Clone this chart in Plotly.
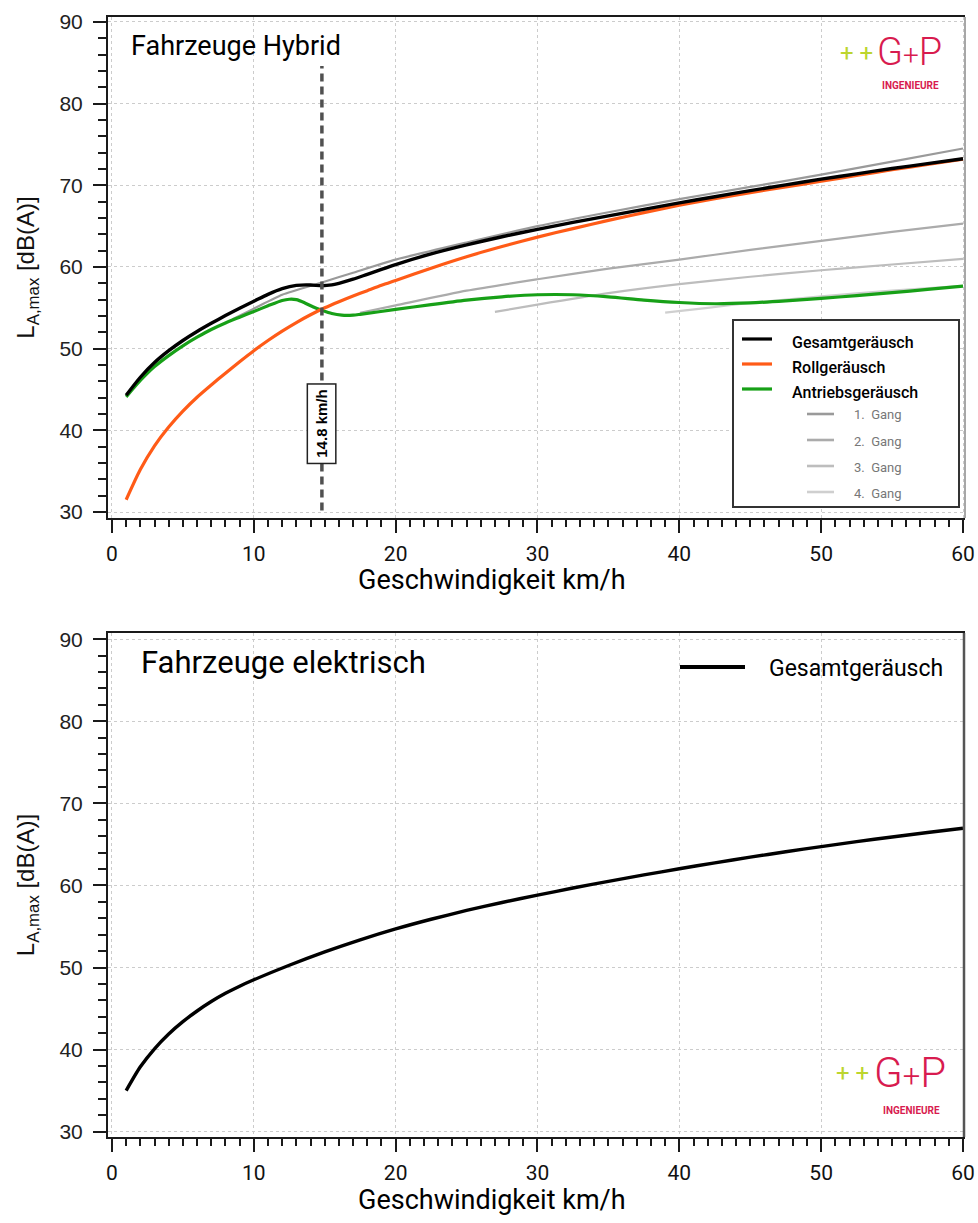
import plotly.graph_objects as go

W, H = 978, 1223

# ---------------- data ----------------
speed_marker = 14.8
marker_label = "14.8 km/h"

hyb_ges_x = [1, 2, 3, 4, 5, 6, 7, 8, 9, 10, 11, 12, 13, 14, 14.8, 15.5, 16, 17, 18, 19, 20, 22.5, 25, 27.5, 30, 32.5, 35, 37.5, 40, 42.5, 45, 47.5, 50, 52.5, 55, 57.5, 60]
hyb_ges_y = [44.3, 46.5, 48.3, 49.75, 51.0, 52.1, 53.1, 54.05, 54.95, 55.8, 56.65, 57.35, 57.75, 57.8, 57.7, 57.8, 58.0, 58.5, 59.1, 59.7, 60.3, 61.6, 62.7, 63.7, 64.6, 65.45, 66.25, 67.05, 67.85, 68.6, 69.35, 70.05, 70.75, 71.4, 72.05, 72.65, 73.25]

hyb_roll_x = [1, 2, 3, 4, 5, 6, 7, 8, 9, 10, 11, 12, 13, 14, 15, 16, 17, 18, 19, 20, 22.5, 25, 27.5, 30, 32.5, 35, 37.5, 40, 42.5, 45, 47.5, 50, 52.5, 55, 57.5, 60]
hyb_roll_y = [31.5, 35.2, 38.1, 40.4, 42.35, 44.05, 45.55, 47.0, 48.4, 49.75, 51.0, 52.15, 53.2, 54.15, 55.0, 55.75, 56.45, 57.1, 57.75, 58.35, 59.85, 61.25, 62.5, 63.65, 64.7, 65.7, 66.65, 67.55, 68.35, 69.1, 69.8, 70.5, 71.2, 71.9, 72.55, 73.2]

hyb_antr_x = [1, 2, 3, 4, 5, 6, 7, 8, 9, 10, 11, 12, 12.5, 13, 13.6, 14.2, 14.8, 15.5, 16.2, 17, 17.5, 20, 22.5, 25, 27.5, 30, 32.5, 35, 37.5, 40, 42.5, 45, 47.5, 50, 52.5, 55, 57.5, 60]
hyb_antr_y = [44.1, 46.1, 47.8, 49.15, 50.35, 51.4, 52.35, 53.15, 53.85, 54.55, 55.25, 55.9, 56.05, 56.0, 55.6, 55.1, 54.7, 54.3, 54.1, 54.1, 54.2, 54.8, 55.4, 55.95, 56.35, 56.6, 56.6, 56.35, 55.95, 55.65, 55.5, 55.6, 55.85, 56.15, 56.5, 56.85, 57.25, 57.65]

gang1_x = [8.5, 10, 12, 14.8, 17, 20, 25, 30, 35, 40, 45, 50, 55, 60]
gang1_y = [53.6, 54.9, 56.6, 58.1, 59.3, 60.9, 63.0, 65.0, 66.7, 68.3, 69.8, 71.3, 72.9, 74.5]
gang2_x = [17.5, 20, 25, 30, 35, 40, 45, 50, 55, 60]
gang2_y = [54.4, 55.3, 57.1, 58.5, 59.8, 60.9, 62.1, 63.2, 64.3, 65.3]
gang3_x = [27, 30, 35, 40, 45, 50, 55, 60]
gang3_y = [54.5, 55.4, 56.8, 57.9, 58.8, 59.6, 60.3, 61.0]
gang4_x = [39, 42, 45, 50, 55, 60]
gang4_y = [54.4, 55.0, 55.6, 56.4, 57.1, 57.7]

el_x = [1, 2, 3, 4, 5, 6, 7, 8, 9, 10, 12.5, 15, 17.5, 20, 22.5, 25, 27.5, 30, 32.5, 35, 37.5, 40, 42.5, 45, 47.5, 50, 52.5, 55, 57.5, 60]
el_y = [35.0, 37.9, 40.1, 41.9, 43.4, 44.7, 45.85, 46.85, 47.72, 48.5, 50.27, 51.9, 53.37, 54.7, 55.88, 56.95, 57.92, 58.82, 59.68, 60.5, 61.28, 62.03, 62.75, 63.44, 64.1, 64.73, 65.33, 65.9, 66.45, 66.97]

x_ticks = [0, 10, 20, 30, 40, 50, 60]
y_ticks = [30, 40, 50, 60, 70, 80, 90]

names_main = ["Gesamtgeräusch", "Rollgeräusch", "Antriebsgeräusch"]
names_gang = ["1.  Gang", "2.  Gang", "3.  Gang", "4.  Gang"]

title_top = "Fahrzeuge Hybrid"
title_bot = "Fahrzeuge elektrisch"
x_title = "Geschwindigkeit km/h"
y_title = "L<sub>A,max</sub> [dB(A)]"

# ---------------- styles ----------------
C_BLACK = "#000000"
C_ORANGE = "#ff5b17"
C_GREEN = "#17a017"
C_GANG = ["#9a9a9a", "#ababab", "#bdbdbd", "#cfcfcf"]
C_LOGO_RED = "#d81b4f"
C_LOGO_GREEN = "#bcd52e"
DIN = "Roboto"
ARIAL = "Liberation Sans"


def px(v):
    return v / W


def py(v):
    return 1 - v / H


fig = go.Figure()

gang_series = [(gang1_x, gang1_y), (gang2_x, gang2_y), (gang3_x, gang3_y), (gang4_x, gang4_y)]
for i, (gx, gy) in enumerate(gang_series):
    fig.add_trace(go.Scatter(x=gx, y=gy, mode="lines", name=names_gang[i],
                             line=dict(color=C_GANG[i], width=2.2, shape="spline", smoothing=0.6),
                             xaxis="x", yaxis="y", showlegend=False, hoverinfo="skip"))

fig.add_trace(go.Scatter(x=hyb_antr_x, y=hyb_antr_y, mode="lines", name=names_main[2],
                         line=dict(color=C_GREEN, width=3.2, shape="spline", smoothing=0.7),
                         xaxis="x", yaxis="y", showlegend=False))
fig.add_trace(go.Scatter(x=hyb_roll_x, y=hyb_roll_y, mode="lines", name=names_main[1],
                         line=dict(color=C_ORANGE, width=3.2, shape="spline", smoothing=0.7),
                         xaxis="x", yaxis="y", showlegend=False))
fig.add_trace(go.Scatter(x=hyb_ges_x, y=hyb_ges_y, mode="lines", name=names_main[0],
                         line=dict(color=C_BLACK, width=3.4, shape="spline", smoothing=0.7),
                         xaxis="x", yaxis="y", showlegend=False))

# vertical dashed marker line
fig.add_trace(go.Scatter(x=[speed_marker, speed_marker], y=[30.2, 84.6], mode="lines",
                         line=dict(color="#505050", width=3.5, dash="8px,5px"),
                         xaxis="x", yaxis="y", showlegend=False, hoverinfo="skip"))

fig.add_trace(go.Scatter(x=el_x, y=el_y, mode="lines", name=names_main[0],
                         line=dict(color=C_BLACK, width=3.4, shape="spline", smoothing=0.7),
                         xaxis="x2", yaxis="y2", showlegend=False))


# ---------------- axes ----------------
def xaxis_common(domain_anchor):
    return dict(
        range=[-0.28, 60.14], domain=[px(108), px(965)], anchor=domain_anchor,
        tickmode="array", tickvals=x_ticks, ticktext=[str(t) for t in x_ticks],
        showline=True, linecolor="#1a1a1a", linewidth=2, mirror=True,
        ticks="outside", ticklen=13, tickwidth=2, tickcolor="#1a1a1a",
        minor=dict(dtick=1, tick0=0, ticks="outside", ticklen=7, tickwidth=1.6,
                   tickcolor="#1a1a1a", showgrid=False),
        showgrid=True, gridcolor="#cccccc", griddash="dot", gridwidth=1,
        zeroline=False,
        tickfont=dict(family=DIN, size=21, color="#111"),
        ticklabelstandoff=3,
        automargin=False,
    )


def yaxis_common(domain, rng, anchor):
    return dict(
        range=rng, domain=domain, anchor=anchor,
        tickmode="array", tickvals=y_ticks, ticktext=[str(t) for t in y_ticks],
        showline=True, linecolor="#1a1a1a", linewidth=2,
        ticks="outside", ticklen=13, tickwidth=2, tickcolor="#1a1a1a",
        minor=dict(dtick=2, tick0=30, ticks="outside", ticklen=8, tickwidth=1.6,
                   tickcolor="#1a1a1a", showgrid=False),
        showgrid=True, gridcolor="#cccccc", griddash="dot", gridwidth=1,
        zeroline=False,
        tickfont=dict(family=ARIAL, size=21, color="#222"),
        ticklabelstandoff=6,
        title=dict(text=y_title, font=dict(family=ARIAL, size=24, color="#111"), standoff=18),
        automargin=False,
    )


layout = dict(
    width=W, height=H,
    margin=dict(l=0, r=0, t=0, b=0),
    paper_bgcolor="white", plot_bgcolor="white",
    showlegend=False,
    xaxis=xaxis_common("y"),
    yaxis=yaxis_common([py(518), py(17)], [29.27, 90.6], "x"),
    xaxis2=xaxis_common("y2"),
    yaxis2=yaxis_common([py(1137), py(633)], [29.35, 90.75], "x2"),
)
fig.update_layout(**layout)

shapes = []
annos = []

# right borders
shapes.append(dict(type="line", xref="paper", yref="paper", x0=px(965), x1=px(965),
                   y0=py(518), y1=py(17), line=dict(color="#8a8a8a", width=1.5)))
shapes.append(dict(type="line", xref="paper", yref="paper", x0=px(964), x1=px(964),
                   y0=py(1137), y1=py(633), line=dict(color="#555555", width=2.5)))


def text_at(text, x, y, font, xanchor="left", yanchor="middle", **kw):
    annos.append(dict(text=text, xref="paper", yref="paper", x=px(x), y=py(y),
                      xanchor=xanchor, yanchor=yanchor, showarrow=False, font=font, **kw))


# axis titles (x)
text_at(x_title, 492, 580, dict(family=DIN, size=27, color="#000"), xanchor="center")
text_at(x_title, 492, 1200, dict(family=DIN, size=27, color="#000"), xanchor="center")

# chart titles
text_at(title_top, 129, 46, dict(family=DIN, size=27, color="#000"))
text_at(title_bot, 139, 663, dict(family=DIN, size=31, color="#000"))

# marker label box
annos.append(dict(text="<b>" + marker_label + "</b>", xref="x", yref="y", x=speed_marker, y=40.86,
                  xanchor="center", yanchor="middle",
                  textangle=-90, showarrow=False, bgcolor="white", bordercolor="#222",
                  borderwidth=1.5, borderpad=5, font=dict(family=ARIAL, size=15, color="#000")))

# top legend (drawn)
shapes.append(dict(type="rect", xref="paper", yref="paper", x0=px(733), x1=px(959),
                   y0=py(507), y1=py(320), line=dict(color="#333", width=2), fillcolor="white",
                   layer="above"))
main_cols = [C_BLACK, C_ORANGE, C_GREEN]
main_y = [339, 364, 389]
for i in range(3):
    shapes.append(dict(type="line", xref="paper", yref="paper", x0=px(742), x1=px(772),
                       y0=py(main_y[i]), y1=py(main_y[i]), line=dict(color=main_cols[i], width=3.2)))
    text_at(names_main[i], 790, main_y[i] + 3, dict(family=DIN, size=16, color="#000", weight=500))
gang_y = [414, 440, 466, 492]
for i in range(4):
    shapes.append(dict(type="line", xref="paper", yref="paper", x0=px(807), x1=px(834),
                       y0=py(gang_y[i]), y1=py(gang_y[i]), line=dict(color=C_GANG[i], width=2.6)))
    text_at(names_gang[i], 852, gang_y[i] + 1, dict(family=DIN, size=13, color="#777"))

# bottom legend (drawn)
shapes.append(dict(type="line", xref="paper", yref="paper", x0=px(680), x1=px(745),
                   y0=py(667), y1=py(667), line=dict(color=C_BLACK, width=4)))
text_at(names_main[0], 767, 668, dict(family=DIN, size=23, color="#000"))


# logos
def logo(cx_plus, cx_gp, y_gp, y_ing, size_gp):
    text_at("+ +", cx_plus, y_gp + 1, dict(family=DIN, size=24, color=C_LOGO_GREEN),
            xanchor="center")
    text_at("G<span style='font-size:%dpx'>+</span>P" % int(size_gp * 0.75), cx_gp, y_gp,
            dict(family=DIN, size=size_gp, color=C_LOGO_RED, weight=300), xanchor="center")
    text_at("<b>INGENIEURE</b>", cx_gp + 1, y_ing, dict(family=DIN, size=10, color=C_LOGO_RED),
            xanchor="center")


logo(856, 909, 52, 86, 38)
logo(852, 910, 1072, 1110, 42)

fig.update_layout(shapes=shapes, annotations=annos)

fig.write_html("out.html", config={"displayModeBar": False},
               post_script="document.body.style.margin='0px';")
